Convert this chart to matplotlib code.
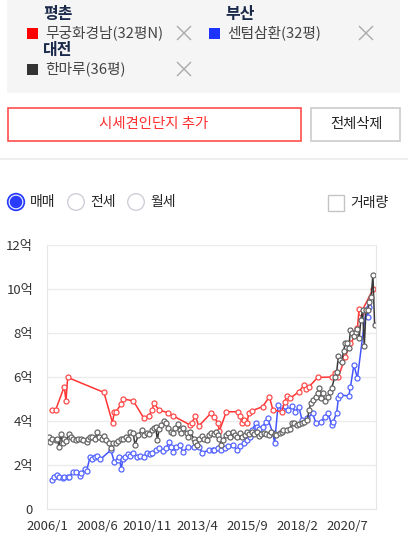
import matplotlib
matplotlib.use('Agg')
import matplotlib.pyplot as plt
from matplotlib.patches import Rectangle, Circle

plt.rcParams['font.family'] = ['Noto Sans CJK KR', 'DejaVu Sans']

# x values are months counted from 2006/1, y values in 억
red_m = [3, 5, 10, 11, 12, 33, 38, 39, 40, 43, 44, 50, 56, 59, 61, 62, 65, 70,
         73, 83, 84, 86, 88, 95, 97, 99, 100, 104, 111, 112, 113, 114, 116,
         117, 119, 125, 129, 131, 136, 138, 139, 141, 146, 149, 150, 152, 157,
         165, 167, 169, 173, 176, 179, 180, 181, 182, 189]
red_v = [4.50, 4.50, 5.56, 4.92, 5.98, 5.30, 3.92, 4.42, 4.42, 4.77, 5.00,
         4.92, 4.15, 4.24, 4.50, 4.80, 4.50, 4.38, 4.24, 3.82, 3.92, 4.23,
         3.77, 4.35, 4.20, 3.90, 3.55, 4.42, 4.42, 4.23, 3.90, 4.05, 3.90,
         4.35, 4.47, 4.65, 5.10, 4.50, 4.42, 4.88, 5.15, 5.03, 5.33, 5.62,
         5.45, 5.56, 5.98, 6.00, 6.17, 6.00, 6.92, 7.53, 7.91, 8.21, 9.10,
         8.90, 9.98]

blue_m = [3, 4, 6, 7, 9, 10, 12, 13, 15, 17, 19, 20, 22, 23, 25, 26, 28, 29,
          31, 37, 39, 41, 42, 43, 44, 45, 47, 48, 50, 52, 54, 56, 58, 60, 61,
          63, 65, 67, 69, 71, 72, 73, 75, 77, 79, 82, 85, 88, 90, 94, 96, 97,
          99, 101, 103, 105, 108, 110, 112, 114, 116, 118, 119, 121, 122, 123,
          125, 127, 128, 131, 132, 134, 136, 138, 140, 142, 144, 146, 148, 151,
          154, 156, 159, 161, 163, 165, 166, 168, 169, 170, 175, 176, 178,
          180, 185, 186, 187]
blue_v = [1.32, 1.44, 1.55, 1.44, 1.39, 1.47, 1.47, 1.44, 1.70, 1.70, 1.52,
          1.65, 1.80, 1.74, 2.38, 2.26, 2.38, 2.41, 2.26, 2.68, 2.15, 2.24,
          2.38, 1.80, 2.26, 2.38, 2.50, 2.41, 2.53, 2.38, 2.41, 2.38, 2.56,
          2.50, 2.56, 2.68, 2.76, 2.65, 2.76, 3.06, 2.80, 2.60, 2.83, 2.90,
          2.60, 2.83, 2.80, 2.83, 2.56, 2.68, 2.70, 2.68, 2.76, 2.68, 2.76,
          2.86, 2.90, 2.70, 2.86, 3.00, 3.14, 3.26, 3.59, 3.90, 3.74, 3.62,
          3.74, 3.97, 4.12, 3.44, 3.00, 4.73, 4.50, 4.68, 4.50, 4.68, 4.42,
          4.65, 4.03, 4.12, 4.35, 3.90, 3.97, 4.20, 4.38, 3.82, 3.97, 4.38,
          5.03, 5.18, 5.14, 5.56, 6.55, 5.94, 9.05, 8.74, 9.17]

gray_m = [1, 2, 3, 5, 6, 7, 8, 9, 10, 11, 13, 14, 15, 17, 18, 20, 21, 23, 24,
          25, 26, 28, 29, 30, 32, 33, 34, 36, 37, 38, 40, 41, 43, 44, 46, 47,
          48, 50, 51, 53, 55, 56, 58, 59, 61, 62, 63, 64, 65, 66, 68, 69, 70,
          72, 73, 74, 76, 77, 78, 79, 81, 82, 83, 85, 86, 87, 88, 90, 91, 93,
          94, 95, 97, 98, 99, 100, 101, 102, 104, 105, 106, 108, 109, 110, 112,
          113, 115, 116, 117, 119, 120, 122, 123, 124, 126, 127, 129, 130, 132,
          133, 135, 136, 137, 139, 141, 142, 143, 145, 146, 148, 149, 151, 152,
          153, 154, 156, 157, 158, 159, 160, 161, 163, 164, 165, 167, 168, 169,
          170, 171, 172, 173, 174, 175, 176, 177, 178, 179, 180, 181, 182, 183,
          184, 185, 186, 187, 188, 189, 190]
gray_v = [3.29, 3.06, 3.20, 3.14, 3.20, 2.83, 3.41, 2.98, 3.20, 3.10, 3.41,
          3.29, 3.20, 3.14, 3.20, 3.17, 3.14, 3.06, 3.20, 3.29, 3.29, 3.20,
          3.50, 3.26, 3.17, 3.32, 3.14, 2.98, 2.76, 2.98, 2.98, 3.10, 3.17,
          3.17, 3.29, 3.20, 3.50, 3.47, 2.91, 3.36, 3.59, 3.36, 3.47, 3.41,
          3.59, 3.67, 3.74, 3.14, 3.62, 3.82, 4.02, 3.89, 3.67, 3.52, 3.44,
          3.67, 3.86, 3.59, 3.44, 3.67, 3.44, 3.29, 3.52, 3.20, 3.06, 2.91,
          3.20, 3.32, 3.20, 3.14, 3.36, 3.44, 3.41, 3.52, 3.36, 3.20, 2.91,
          3.14, 3.36, 3.44, 3.29, 3.52, 3.36, 3.29, 3.44, 3.29, 3.36, 3.52,
          3.41, 3.52, 3.41, 3.52, 3.32, 3.41, 3.44, 3.41, 3.36, 3.52, 3.41,
          3.36, 3.44, 3.52, 3.59, 3.59, 3.62, 3.92, 3.89, 3.82, 3.86, 3.89,
          3.97, 4.05, 4.50, 4.80, 4.95, 5.10, 5.26, 5.48, 5.03, 5.26, 4.89,
          5.10, 5.33, 5.48, 6.02, 6.24, 6.95, 6.77, 6.70, 7.20, 7.53, 7.53,
          7.30, 8.14, 7.98, 7.86, 8.06, 8.17, 7.76, 8.59, 9.05, 7.41, 9.05,
          9.05, 9.42, 9.65, 10.64, 8.36]

x_ticks = [0, 29, 58, 87, 116, 145, 174]
x_labels = ['2006/1', '2008/6', '2010/11', '2013/4', '2015/9', '2018/2',
            '2020/7']
y_ticks = [0, 2, 4, 6, 8, 10, 12]
y_labels = ['0', '2억', '4억', '6억', '8억', '10억', '12억']

regions = ['평촌', '부산', '대전']
names = ['무궁화경남(32평N)', '센텀삼환(32평)', '한마루(36평)']
sq_colors = ['#ff0000', '#1f33ff', '#333333']
line_colors = ['#ff3535', '#4455ff', '#3a3a3a']
edge_colors = ['#ff4a4a', '#5565ff', '#666666']
trade_types = ['매매', '전세', '월세']

W, H = 411, 546
fig = plt.figure(figsize=(W / 100, H / 100), dpi=100)

# page layer in pixel units (origin top-left)
ui = fig.add_axes([0, 0, 1, 1])
ui.set_xlim(0, W)
ui.set_ylim(H, 0)
ui.axis('off')

ui.add_patch(Rectangle((7, -5), 393, 98, facecolor='#f5f5f5', edgecolor='none'))

item_pos = [(27, 33), (209, 33), (27, 69)]
x_pos = [184, 366, 184]
for (x0, yc), reg, nm, col, xx in zip(item_pos, regions, names, sq_colors, x_pos):
    ui.text(x0 + 16, yc - 19, reg, fontsize=11.5, fontweight='bold',
            color='#1b2a4a', ha='left', va='center')
    ui.add_patch(Rectangle((x0, yc - 5.5), 11, 11, facecolor=col,
                           edgecolor='none'))
    ui.text(x0 + 18, yc, nm, fontsize=10.6, color='#444444', ha='left',
            va='center')
    ui.plot([xx - 6.5, xx + 6.5], [yc - 6.5, yc + 6.5], color='#aaaaaa', lw=1)
    ui.plot([xx - 6.5, xx + 6.5], [yc + 6.5, yc - 6.5], color='#aaaaaa', lw=1)

# buttons
ui.add_patch(Rectangle((7.5, 107.5), 293, 33, facecolor='white',
                       edgecolor='#ff4d4d', lw=1.2))
ui.text(154, 124, '시세견인단지 추가', fontsize=10.4, color='#ff3030',
        ha='center', va='center')
ui.add_patch(Rectangle((310.5, 107.5), 89, 33, facecolor='white',
                       edgecolor='#cccccc', lw=1.2))
ui.text(356, 124, '전체삭제', fontsize=10.3, color='#222222', ha='center',
        va='center')

ui.plot([0, 407], [158.5, 158.5], color='#eeeeee', lw=1.5)

# radio buttons and checkbox
for i, t in enumerate(trade_types):
    cx = 16 + 60 * i
    if i == 0:
        ui.add_patch(Circle((cx, 202), 8.3, facecolor='white',
                            edgecolor='#2a3cff', lw=1.3))
        ui.add_patch(Circle((cx, 202), 6.3, facecolor='#2a3cff',
                            edgecolor='none'))
    else:
        ui.add_patch(Circle((cx, 202), 8.3, facecolor='white',
                            edgecolor='#cfcfd8', lw=1))
    ui.text(cx + 14, 202, t, fontsize=10, color='#222222', ha='left',
            va='center')
ui.add_patch(Rectangle((327.5, 194.5), 16.5, 16.5, facecolor='white',
                       edgecolor='#c4c4c4', lw=1))
ui.text(350, 203, '거래량', fontsize=10, color='#222222', ha='left',
        va='center')

# chart
ax = fig.add_axes([47 / W, (H - 509) / H, (376 - 47) / W, (509 - 245) / H])
series = [(blue_m, blue_v, 1), (red_m, red_v, 0), (gray_m, gray_v, 2)]
for m, v, k in series:
    ax.plot(m, v, color=line_colors[k], lw=1.1, marker='o', markersize=3.6,
            markerfacecolor='white', markeredgecolor=edge_colors[k],
            markeredgewidth=0.9)

ax.set_xlim(0, 190.8)
ax.set_ylim(0, 12)
ax.set_xticks(x_ticks)
ax.set_xticklabels(x_labels)
ax.set_yticks(y_ticks)
ax.set_yticklabels(y_labels)
ax.tick_params(length=0, labelsize=9.5, labelcolor='#333333')
ax.tick_params(axis='x', pad=8)
ax.tick_params(axis='y', pad=10)
ax.grid(axis='y', color='#ebebeb', lw=1)
ax.set_axisbelow(True)
for s in ['left', 'right', 'bottom']:
    ax.spines[s].set_color('#e6e6e6')
ax.spines['top'].set_visible(False)

fig.savefig('out.png', dpi=100)
